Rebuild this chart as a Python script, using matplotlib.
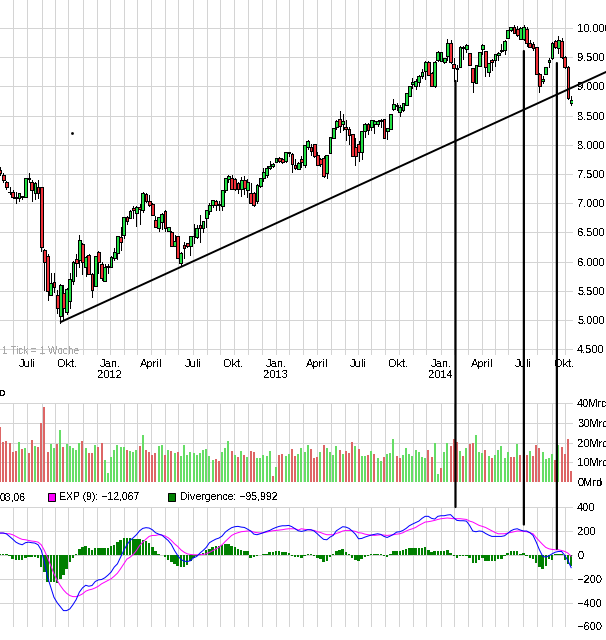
import matplotlib
matplotlib.use('Agg')
import matplotlib.pyplot as plt
from matplotlib.patches import ConnectionPatch, Rectangle
import numpy as np

W, H = 606, 640
plt.rcParams['font.family'] = ['Liberation Sans', 'DejaVu Sans']
plt.rcParams['font.size'] = 8.0
plt.rcParams['text.antialiased'] = False

# weekly candles
opens = [7570,7480,7370,7190,7200,7100,7090,7100,7110,7440,
7370,7170,7280,7270,6200,6100,5420,5650,5430,5075,
5460,5140,5330,5670,6040,6020,6300,5910,6110,5790,
5590,6160,5960,5660,5900,5910,6070,6140,6420,6460,
6760,6750,6910,6830,6940,6890,7150,7030,6990,6710,
6570,6670,6870,6530,6510,6270,6440,5980,6280,6310,
6260,6430,6420,6630,6570,6740,6860,6970,7040,6970,
6960,7230,7410,7430,7410,7350,7250,7400,7230,7180,
7180,7030,7300,7440,7490,7600,7630,7700,7770,7750,
7730,7860,7840,7650,7590,7750,7650,7970,7960,8010,
7830,7750,7770,7520,7860,8110,8300,8450,8350,8300,
8270,8180,7970,8010,7870,8240,8350,8310,8350,8350,
8400,8440,8230,8270,8610,8670,8570,8600,8680,8840,
9040,9010,9080,9170,9260,9420,9230,9000,9450,9440,
9420,9520,9750,9390,9300,9340,9650,9640,9580,9310,
9050,9350,9640,9600,9250,9450,9450,9540,9610,9620,
9830,9970,10010,9990,9820,9820,9990,9740,9720,9670,
9220,9100,9220,9410,9480,9780,9650,9770,9510,9340,
8710]
highs = [7620,7520,7380,7270,7230,7200,7170,7130,7430,7520,
7390,7370,7390,7280,6210,6130,5800,5800,5510,5610,
5600,5550,5800,6010,6130,6450,6310,6100,6130,5800,
6090,6180,6000,5960,5960,6090,6240,6430,6600,6770,
6780,6880,6960,6950,6990,7200,7180,7140,7000,6780,
6770,6830,6880,6590,6530,6460,6440,6170,6340,6310,
6430,6650,6620,6800,6700,6890,7000,7060,7060,7040,
7230,7440,7490,7480,7440,7370,7450,7460,7420,7350,
7190,7330,7440,7610,7630,7720,7680,7780,7790,7780,
7880,7880,7860,7760,7700,7810,8000,8090,8010,8020,
7880,7780,7810,7830,8140,8280,8430,8580,8520,8420,
8300,8190,8120,8070,8240,8370,8370,8430,8430,8420,
8440,8450,8290,8530,8780,8710,8690,8720,8880,9010,
9140,9130,9190,9300,9430,9430,9240,9430,9600,9590,
9490,9810,9800,9490,9360,9690,9690,9730,9580,9320,
9370,9590,9730,9610,9400,9470,9560,9590,9720,9790,
9970,10020,10050,10040,10020,10050,10010,9790,9760,9680,
9230,9180,9340,9480,9760,9800,9870,9830,9520,9350,
8840]
lows = [7490,7370,7250,7150,7090,7010,7040,7080,7100,7370,
7040,7070,7090,6180,5515,5350,5420,5480,5120,4950,
5020,5100,5200,5620,5760,5900,5780,5750,5790,5400,
5580,5800,5680,5660,5800,5910,6030,6040,6200,6400,
6650,6750,6740,6610,6640,6850,7020,6960,6790,6590,
6520,6550,6530,6530,6270,6260,6060,5940,6060,6250,
6120,6320,6400,6340,6510,6600,6820,6940,6880,6880,
6890,7190,7370,7240,7230,7180,7130,7150,7100,7000,
6950,7010,7280,7380,7450,7590,7620,7700,7700,7680,
7710,7800,7540,7590,7590,7620,7620,7930,7820,7790,
7650,7640,7450,7430,7860,8110,8270,8220,8250,8090,
8010,7800,7660,7730,7750,8130,8180,8250,8200,8320,
8310,8110,8100,8270,8600,8600,8490,8580,8680,8830,
8980,8960,9000,9150,9130,9190,9000,8990,9430,9440,
9400,9450,9400,9100,9100,9330,9470,9590,9360,8910,
9050,9350,9550,9170,9170,9280,9350,9450,9590,9560,
9830,9950,9920,9870,9820,9800,9690,9670,9630,9220,
8900,9050,9210,9340,9470,9650,9570,9480,9320,8790,
8690]
closes = [7510,7400,7270,7200,7110,7090,7170,7130,7430,7410,
7230,7340,7170,6250,6000,5490,5640,5560,5200,5600,
5210,5530,5700,5990,5980,6370,6000,6080,5790,5520,
6090,6000,5720,5900,5920,6080,6160,6430,6330,6770,
6700,6860,6880,6940,6900,7170,7030,6970,6790,6600,
6760,6810,6570,6590,6270,6350,6070,6140,6240,6270,
6430,6430,6570,6570,6700,6880,6970,7060,6970,6980,
7230,7430,7460,7240,7240,7240,7390,7260,7370,7010,
6970,7320,7440,7540,7610,7640,7670,7780,7730,7710,
7870,7880,7670,7610,7680,7710,7990,8060,7900,7800,
7650,7670,7470,7820,8140,8280,8410,8320,8410,8270,
8170,7810,7800,7870,8240,8360,8250,8420,8410,8400,
8430,8110,8280,8530,8700,8690,8650,8710,8880,9010,
9080,9100,9180,9240,9420,9190,9000,9420,9590,9590,
9480,9750,9410,9310,9320,9680,9670,9710,9370,9070,
9360,9590,9710,9340,9400,9410,9560,9580,9630,9780,
9960,10010,9920,9880,10000,10020,9740,9680,9650,9220,
9000,9120,9340,9450,9750,9670,9800,9510,9340,8800,
8760]

# volume in Mrd, r/g per week
volume = [27.7,20.3,20.7,19.8,15.3,15.6,20.2,16.8,17.3,14.8,
21.2,18.2,17.8,29.9,37.8,15.1,19.2,17.1,19.2,26.2,
17.8,19.2,18.2,17.3,16.1,19.8,20.7,17.1,14.6,14.6,
18.7,17.8,19.7,11.1,4.5,12.6,16.1,18.7,17.6,17.6,
16.1,15.8,15.1,16.1,18.2,23.7,16.1,15.1,13.6,14.6,
18.2,18.7,13.6,16.1,15.6,14.6,15.1,13.1,18.7,13.6,
15.1,14.6,13.6,14.6,16.1,16.6,13.1,11.1,11.6,10.6,
15.1,17.1,20.7,15.6,13.6,12.6,15.6,13.6,12.6,15.6,
15.1,12.1,12.1,13.6,13.1,15.6,3.0,7.6,13.6,14.1,
13.1,14.1,16.6,13.1,14.1,17.1,15.1,18.7,16.6,12.1,
12.6,15.1,18.7,17.1,15.1,13.6,18.2,16.1,14.1,15.6,
14.6,20.2,18.2,16.6,13.1,13.1,13.6,15.6,14.1,12.1,
10.6,12.6,14.1,14.6,21.7,13.1,12.1,13.6,17.1,14.1,
13.1,16.1,15.1,12.6,12.1,16.1,12.6,19.7,4.0,7.1,
15.1,19.7,18.2,21.7,20.2,15.6,13.1,17.1,19.2,19.7,
23.7,15.1,14.6,16.1,13.1,12.1,13.6,16.1,18.2,12.1,
15.1,12.6,12.6,19.2,13.6,15.0,13.6,15.6,13.1,18.7,
17.1,15.1,11.6,12.1,14.1,11.1,18.7,17.6,14.1,21.7,
5.5]
volume_dir = ("rrrrrrgrgr" "rgrrrrggrg" "rgggggrgrr"
              "grrggggggg" "rgggrgrrrr" "ggrgrgrggg" "ggggggggrr" "gggrgrgrgr"
              "rgggggrgrr" "ggrrggggrr" "rgrggggrgr" "rrgrggrgrg" "grgggrrggg"
              "gggggrrggr" "ggrrrgrgrr" "gggrgrgggg" "grrgrrrgrr" "rggggrgrrr" "r")

macd = [182,182,176,154,131,106,92,84,101,106,
101,98,84,39,-62,-187,-271,-355,-400,-434,
-467,-467,-453,-417,-375,-313,-277,-255,-263,-257,
-224,-210,-207,-193,-171,-145,-103,-76,-20,36,
84,120,143,168,201,221,227,224,210,185,
173,165,143,120,87,36,-6,-39,-53,-56,
-50,-25,-14,14,36,62,101,117,131,140,
157,190,210,227,235,238,232,229,215,199,
173,168,176,185,196,204,218,229,238,243,
243,246,235,218,201,196,201,210,210,199,
176,151,129,126,148,162,201,218,235,232,
221,199,173,134,137,148,157,165,171,176,
171,154,145,157,171,190,193,204,221,243,
257,269,282,305,322,322,305,299,322,327,
327,333,336,310,288,285,285,282,246,199,
193,199,196,179,165,154,154,154,154,159,
179,201,213,218,207,199,199,185,162,106,
42,-11,-20,-8,8,22,28,28,-6,-48,
-108]
signal = [182,182,176,176,168,154,140,129,126,120,
115,112,106,84,36,-25,-90,-159,-213,-257,
-294,-322,-341,-350,-350,-341,-327,-305,-294,-288,
-277,-263,-243,-229,-215,-201,-179,-154,-117,-76,
-36,-20,3,36,78,106,131,154,162,162,
168,165,157,143,120,92,70,42,22,8,
3,0,0,0,3,8,20,34,48,64,
84,112,137,162,176,185,193,196,199,199,
190,185,182,185,190,196,201,204,207,210,
215,218,218,218,207,218,213,210,207,204,
193,187,176,168,168,168,179,187,199,204,
204,201,196,185,182,173,168,165,162,165,
168,165,162,165,168,173,176,185,199,210,
218,229,246,260,274,277,282,288,296,302,
305,308,305,302,302,302,299,296,282,274,
260,246,238,229,215,201,187,176,176,176,
182,187,193,199,199,196,193,185,176,143,
115,87,62,50,45,42,42,36,28,14,
-12]
divergence = [8,8,6,-14,-36,-42,-45,-42,-28,-20,
-20,-20,-25,-98,-145,-229,-229,-229,-238,-201,
-165,-117,-62,-25,3,45,62,70,59,36,
56,59,56,53,56,70,78,106,126,143,
143,143,134,129,129,126,115,98,64,28,
8,-3,-20,-42,-62,-76,-95,-103,-98,-87,
-48,-25,-6,3,14,36,50,67,70,70,
78,92,92,76,64,50,36,28,28,-25,
-20,-11,-3,3,8,20,22,28,28,25,
22,14,-6,-20,-20,-25,-6,8,3,-6,
-25,-39,-64,-48,-20,8,34,39,45,22,
8,-25,-42,-56,-34,-20,-6,3,3,8,
3,-6,-20,8,28,28,28,36,45,53,
56,56,56,56,62,42,22,28,34,34,
31,36,14,-6,-25,-11,-6,-14,-25,-67,
-70,-42,-25,-56,-56,-56,-48,-39,-34,-6,
17,28,28,28,8,17,-6,-25,-39,-70,
-103,-123,-90,-34,-42,3,8,3,-42,-76,
-96]

# month grid, in weeks from the left edge
month_pos = [4.1,8.5,13.2,17.3,21.4,26.2,30.6,34.7,39.1,43.2,47.6,52,56.1,60.8,65.2,69.3,73.7,
             78.2,82.6,87,91.1,95.5,99.9,104.3,108.7,112.8,116.9,121.3,125.7,130.2,134.3,
             139,143.1,147.5,151.9,156,160.1,164.8,169.2,174,178.1]
month_labels = ['','Juli','','','Okt.','','','Jan.\n2012','','','April','','','Juli','','','Okt.',
                '','','Jan.\n2013','','','April','','','Juli','','','Okt.','','',
                'Jan.\n2014','','','April','','','Juli','','','Okt.']

price_ticks = [10000,9500,9000,8500,8000,7500,7000,6500,6000,5500,5000,4500]
price_labels = ['10.000','9.500','9.000','8.500','8.000','7.500','7.000','6.500','6.000','5.500','5.000','4.500']
vol_ticks = [0,10,20,30,40]
vol_labels = ['0Mrd','10Mrd','20Mrd','30Mrd','40Mrd']
macd_ticks = [400,200,0,-200,-400,-600]
macd_labels = ['400','200','0','\u2212200','\u2212400','\u2212600']

# hand drawn lines on the chart
trend_weeks = [19.2,191]
trend_prices = [4967,9247]
cut_weeks = [143.55,165.1,175.5]
cut_prices = [9093,9606,9400]
cut_macd = [400,253,50]

GRID = '#d4d4d4'
px_per_week = 3.173
right_px = 573
weeks = np.arange(len(closes))


def panel(top, bottom, ylim, ticks, labels):
    ax = fig.add_axes([0, 1 - bottom / H, right_px / W, (bottom - top) / H])
    ax.set_xlim(0, right_px / px_per_week)
    ax.set_ylim(*ylim)
    for s in ax.spines.values():
        s.set_visible(False)
    ax.set_axisbelow(True)
    ax.yaxis.tick_right()
    ax.set_yticks(ticks)
    ax.set_yticklabels(labels)
    ax.set_xticks(month_pos)
    ax.set_xticklabels([])
    ax.tick_params(length=0, pad=3)
    ax.grid(True, color=GRID, lw=0.72, antialiased=False)
    return ax


fig = plt.figure(figsize=(W / 100, H / 100), dpi=100, facecolor='white')

# price panel, 29.2 px per 500 points, top of the picture to y=355
price_per_px = 500 / 29.2
ax1 = panel(0, 355, (10000 - (355 - 28) * price_per_px, 10000 + 28 * price_per_px), price_ticks, price_labels)
ax1.set_xticklabels(month_labels, linespacing=1.05)
ax1.tick_params(axis='x', pad=3)
ax1.vlines(weeks, lows, highs, color='black', lw=0.72, zorder=2, antialiased=False)
colors = ['#22e044' if c >= o else '#f03038' for o, c in zip(opens, closes)]
ax1.bar(weeks, np.array(closes) - np.array(opens), bottom=opens, width=0.88, color=colors,
        edgecolor='black', linewidth=0.45, zorder=3, antialiased=False)
ax1.plot(trend_weeks, trend_prices, color='black', lw=1.4, clip_on=False, zorder=5)
ax1.plot([22.7], [8210], 's', color='black', ms=0.9, zorder=5)
ax1.text(0.7, 4470, '1 Tick = 1 Woche', color='#a8a8a8', fontsize=7.2, ha='left', va='center', zorder=1)

# volume panel
ax2 = panel(403, 482, (0, 40), vol_ticks, vol_labels)
vol_colors = ['#66dd66' if d == 'g' else '#dd6666' for d in volume_dir]
ax2.bar(weeks, volume, width=0.63, color=vol_colors, zorder=2, antialiased=False)

# MACD panel
ax3 = panel(507, 626.5, (-600, 400), macd_ticks, macd_labels)
ax3.bar(weeks, divergence, width=0.78, color='#008000', zorder=2, antialiased=False)
ax3.plot(weeks, signal, color='#ff00ff', lw=0.72, zorder=3)
ax3.plot(weeks, macd, color='#0000ff', lw=0.72, zorder=4)

for w, p, m in zip(cut_weeks, cut_prices, cut_macd):
    con = ConnectionPatch(xyA=(w, p), coordsA=ax1.transData, xyB=(w, m), coordsB=ax3.transData,
                          arrowstyle='-', color='black', lw=1.6, shrinkA=0, shrinkB=0, zorder=10)
    fig.add_artist(con)

# legend row above MACD, and the cut off headers on the left edge
fig.text(0, 1 - 393 / H, 'o', ha='left', va='center')
fig.text(0, 1 - 497 / H, '08,06', fontsize=7.6, ha='left', va='center')
fig.add_artist(Rectangle((48 / W, 1 - 501 / H), 7 / W, 8 / H, transform=fig.transFigure,
                         facecolor='#ff00ff', edgecolor='black', lw=0.7))
fig.text(59 / W, 1 - 497 / H, 'EXP (9): \u221212,067', fontsize=7.6, ha='left', va='center')
fig.add_artist(Rectangle((168 / W, 1 - 501 / H), 7 / W, 8 / H, transform=fig.transFigure,
                         facecolor='#008000', edgecolor='black', lw=0.7))
fig.text(180 / W, 1 - 497 / H, 'Divergence: \u221295,992', fontsize=7.6, ha='left', va='center')

fig.savefig('out.png', dpi=100)
